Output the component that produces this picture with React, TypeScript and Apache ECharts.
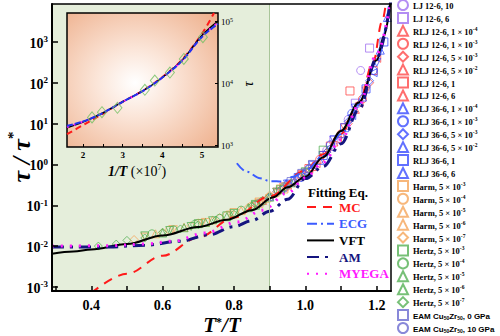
import React, { useEffect, useRef } from 'react';
import * as echarts from 'echarts';

const SERIF = "'Liberation Serif', 'Times New Roman', serif";
const SANS = "'Liberation Sans', Arial, sans-serif";

// axis ticks / labels
const xTickValues = [0.3, 0.4, 0.5, 0.6, 0.7, 0.8, 0.9, 1.0, 1.1, 1.2];
const xLabelValues = [0.4, 0.6, 0.8, 1.0, 1.2];
const insetXTicks = [2, 2.5, 3, 3.5, 4, 4.5, 5];
const insetXLabels = [2, 3, 4, 5];

// fitting curves: [T*/T, tau/tau*]
const mcCurve = [[0.4, 7.1e-4], [0.5, 2.1e-3], [0.6, 5.8e-3], [0.7, 1.62e-2], [0.8, 5.0e-2], [0.9, 0.166], [1.0, 0.71], [1.05, 1.78], [1.1, 5.6], [1.15, 31.6], [1.19, 316], [1.215, 3160], [1.228, 12600]];
const ecgCurve = [[0.808, 1.07], [0.836, 0.66], [0.873, 0.457], [0.901, 0.39], [0.938, 0.38], [0.966, 0.5], [1.0, 0.71], [1.05, 1.6], [1.1, 5.5], [1.15, 30], [1.2, 330], [1.235, 8500]];
const vftCurve = [[0.29, 6.5e-3], [0.35, 7.4e-3], [0.4, 8.3e-3], [0.5, 1.12e-2], [0.6, 1.82e-2], [0.7, 2.95e-2], [0.78, 4.4e-2], [0.85, 7.6e-2], [0.91, 0.158], [0.95, 0.275], [1.0, 0.5], [1.05, 1.51], [1.1, 6.6], [1.15, 33], [1.2, 355], [1.22, 1410], [1.24, 12600]];
const amCurve = [[0.29, 9.5e-3], [0.45, 9.5e-3], [0.55, 1.05e-2], [0.65, 1.32e-2], [0.73, 1.9e-2], [0.8, 3.0e-2], [0.85, 4.2e-2], [0.9, 7.1e-2], [0.95, 0.14], [1.0, 0.45], [1.05, 0.89], [1.1, 3.2], [1.15, 22], [1.2, 400], [1.24, 11000]];
const myegaCurve = [[0.29, 1.0e-2], [0.45, 1.02e-2], [0.55, 1.12e-2], [0.63, 1.32e-2], [0.72, 2.1e-2], [0.81, 3.9e-2], [0.88, 7.6e-2], [0.95, 0.2], [1.0, 0.47], [1.05, 1.12], [1.1, 4.0], [1.15, 28], [1.2, 500], [1.24, 11000]];

// simulation data: [T*/T, tau/tau*]
const lj10 = [[0.99, 0.501], [1.06, 2.24], [1.12, 12.6], [1.155, 200]];
const lj6 = [[1.0, 0.631], [1.08, 3.98], [1.14, 31.6], [1.18, 708]];
const rlj12a = [[0.88, 0.132], [0.95, 0.316], [1.02, 0.891], [1.08, 3.55], [1.14, 22.4]];
const rlj12b = [[0.9, 0.158], [0.97, 0.398], [1.04, 1.32], [1.1, 5.62], [1.16, 39.8]];
const rlj12c = [[0.86, 0.105], [0.93, 0.24], [1.0, 0.603], [1.06, 2.0], [1.12, 10], [1.18, 100]];
const rlj12d = [[0.92, 0.209], [0.99, 0.562], [1.05, 1.66], [1.11, 7.94], [1.17, 63.1]];
const rlj12e = [[0.94, 0.282], [1.01, 0.794], [1.07, 2.82], [1.125, 63.1], [1.19, 200]];
const rlj12f = [[0.96, 0.355], [1.03, 1.05], [1.09, 3.98], [1.15, 31.6], [1.2, 398]];
const rlj36a = [[0.9, 0.166], [0.97, 0.417], [1.04, 1.26], [1.1, 5.62], [1.16, 44.7], [1.21, 631], [1.23, 3980]];
const rlj36b = [[0.87, 0.112], [0.94, 0.263], [1.01, 0.759], [1.07, 3.02], [1.13, 17.8], [1.19, 200]];
const rlj36c = [[0.92, 0.219], [0.99, 0.525], [1.06, 2.0], [1.12, 11.2], [1.18, 112]];
const rlj36d = [[0.95, 0.331], [1.02, 0.955], [1.08, 3.98], [1.14, 24], [1.2, 316]];
const rlj36e = [[0.98, 0.479], [1.05, 1.66], [1.11, 7.94], [1.17, 70.8], [1.22, 1000]];
const rlj36f = [[0.93, 0.251], [1.0, 0.661], [1.07, 2.63], [1.13, 15.8], [1.19, 178]];
const harmA = [[0.72, 0.038], [0.8, 0.0661], [0.87, 0.112], [0.94, 0.251], [1.0, 0.603]];
const harmB = [[0.62, 0.0251], [0.7, 0.0363], [0.78, 0.0562], [0.85, 0.0955], [0.92, 0.2], [0.98, 0.479]];
const harmC = [[0.58, 0.02], [0.66, 0.0288], [0.74, 0.0437], [0.82, 0.0741], [0.89, 0.148], [0.95, 0.316]];
const harmD = [[0.55, 0.0166], [0.63, 0.0251], [0.71, 0.0355], [0.79, 0.0575], [0.87, 0.12], [0.93, 0.251]];
const harmE = [[0.52, 0.0145], [0.6, 0.0214], [0.68, 0.0316], [0.76, 0.0501], [0.84, 0.0891], [0.9, 0.178]];
const hertzA = [[0.7, 0.0355], [0.78, 0.055], [0.86, 0.1], [0.93, 0.24], [1.0, 0.661], [1.05, 2.24]];
const hertzB = [[0.57, 0.02], [0.63, 0.0251], [0.69, 0.0339], [0.76, 0.0479], [0.82, 0.0759], [0.88, 0.126], [0.94, 0.282], [1.0, 0.631]];
const hertzC = [[0.6, 0.0209], [0.66, 0.0282], [0.72, 0.038], [0.78, 0.0525], [0.84, 0.0871], [0.9, 0.158], [0.96, 0.355]];
const hertzD = [[0.55, 0.0178], [0.62, 0.024], [0.68, 0.0302], [0.74, 0.0417], [0.8, 0.0631], [0.86, 0.105], [0.92, 0.209]];
const hertzE = [[0.42, 0.01], [0.47, 0.0112], [0.5, 0.0138], [0.55, 0.0158], [0.6, 0.0219], [0.65, 0.0263], [0.7, 0.0331], [0.75, 0.0437], [0.8, 0.0603], [0.85, 0.0955], [0.9, 0.166]];
const eam0 = [[0.96, 0.38], [0.99, 0.603], [1.02, 1.0]];
const eam10 = [[0.95, 0.316], [0.98, 0.501], [1.01, 0.794]];

// inset: [1/T (x10^7), tau]
const insetVft = [[1.6, 1900], [2.0, 2350], [2.5, 3300], [3.0, 5000], [3.5, 7400], [4.0, 12300], [4.5, 23500], [5.0, 59000], [5.4, 100000]];
const insetBlue = [[1.6, 2050], [2.0, 2400], [2.5, 3300], [3.0, 5000], [3.5, 7400], [4.0, 12300], [4.5, 23000], [5.0, 56000], [5.4, 90000]];
const insetRed = [[1.6, 1500], [2.0, 2100], [2.5, 3200], [3.0, 5000], [3.5, 7500], [4.0, 12500], [4.5, 24000], [5.0, 63000], [5.3, 135000]];
const insetMagenta = [[1.6, 1950], [2.0, 2380], [2.5, 3300], [3.0, 5000], [3.5, 7400], [4.0, 12300], [4.5, 23300], [5.0, 57000], [5.4, 95000]];
const insetPoints = [[2.23, 2800], [2.48, 3400], [2.87, 4000], [3.56, 7800], [3.81, 11000], [4.19, 14800], [4.54, 24500], [5.02, 55000]];

const C_LJ = '#a070f0';
const C_R12 = '#ff4a4a';
const C_R36 = '#3a4cff';
const C_HARM = '#f5a55a';
const C_HERTZ = '#55b055';
const C_EAM = '#6a6ad0';

type Sym = [string, number];
const CIRCLE: Sym = ['circle', 0];
const SQUARE: Sym = ['rect', 0];
const TRI: Sym = ['triangle', 0];
const TRI_DOWN: Sym = ['triangle', 180];
const TRI_LEFT: Sym = ['triangle', 90];
const DIAMOND: Sym = ['diamond', 0];

const scatterDefs: [string, Sym, string, number[][]][] = [
  ['LJ 12-6, 10', CIRCLE, C_LJ, lj10],
  ['LJ 12-6, 6', SQUARE, C_LJ, lj6],
  ['RLJ 12-6, 1 × 10^-4', TRI, C_R12, rlj12a],
  ['RLJ 12-6, 1 × 10^-3', CIRCLE, C_R12, rlj12b],
  ['RLJ 12-6, 5 × 10^-3', DIAMOND, C_R12, rlj12c],
  ['RLJ 12-6, 5 × 10^-2', TRI_DOWN, C_R12, rlj12d],
  ['RLJ 12-6, 1', SQUARE, C_R12, rlj12e],
  ['RLJ 12-6, 6', TRI_LEFT, C_R12, rlj12f],
  ['RLJ 36-6, 1 × 10^-4', TRI, C_R36, rlj36a],
  ['RLJ 36-6, 1 × 10^-3', CIRCLE, C_R36, rlj36b],
  ['RLJ 36-6, 5 × 10^-3', DIAMOND, C_R36, rlj36c],
  ['RLJ 36-6, 5 × 10^-2', TRI_DOWN, C_R36, rlj36d],
  ['RLJ 36-6, 1', SQUARE, C_R36, rlj36e],
  ['RLJ 36-6, 6', TRI_LEFT, C_R36, rlj36f],
  ['Harm, 5 × 10^-3', SQUARE, C_HARM, harmA],
  ['Harm, 5 × 10^-4', CIRCLE, C_HARM, harmB],
  ['Harm, 5 × 10^-5', TRI, C_HARM, harmC],
  ['Harm, 5 × 10^-6', TRI_DOWN, C_HARM, harmD],
  ['Harm, 5 × 10^-7', DIAMOND, C_HARM, harmE],
  ['Hertz, 5 × 10^-3', SQUARE, C_HERTZ, hertzA],
  ['Hertz, 5 × 10^-4', CIRCLE, C_HERTZ, hertzB],
  ['Hertz, 5 × 10^-5', TRI, C_HERTZ, hertzC],
  ['Hertz, 5 × 10^-6', TRI_DOWN, C_HERTZ, hertzD],
  ['Hertz, 5 × 10^-7', DIAMOND, C_HERTZ, hertzE],
  ['EAM Cu50Zr50, 0 GPa', SQUARE, C_EAM, eam0],
  ['EAM Cu50Zr50, 10 GPa', CIRCLE, C_EAM, eam10],
];

const fitDefs: [string, string, any, number, number[][]][] = [
  ['MC', '#ff1a1a', [9, 7], 2, mcCurve],
  ['ECG', '#3b5bff', [10, 4, 2, 4], 2, ecgCurve],
  ['VFT', '#000000', 'solid', 2, vftCurve],
  ['AM', '#15157f', [12, 6, 3, 6], 3, amCurve],
  ['MYEGA', '#ff1aff', [2, 7], 3, myegaCurve],
];

const legendFmt = (name: string) => {
  if (name.startsWith('EAM')) {
    const tail = name.split(', ')[1];
    return `{sans|EAM Cu}{sub|50}{sans|Zr}{sub|50}{sans|, ${tail}}`;
  }
  const m = name.match(/^(.*)\^(-?\d+)$/);
  if (m) return `{t|${m[1]}}{sup|${m[2]}}`;
  return `{t|${name}}`;
};

const logLabel = (v: number) => `{b|10}{s|${Math.round(Math.log10(v))}}`;

export default function App() {
  const ref = useRef<HTMLDivElement>(null);
  useEffect(() => {
    const chart = echarts.init(ref.current!, null, { renderer: 'svg' });

    const series: any[] = [];
    scatterDefs.forEach(([name, sym, color, data]) => {
      series.push({
        name,
        type: 'scatter',
        xAxisIndex: 0,
        yAxisIndex: 0,
        data,
        symbol: sym[0],
        symbolRotate: sym[1],
        symbolSize: 8,
        itemStyle: { color: 'transparent', borderColor: color, borderWidth: 1 },
        z: 2,
      });
    });
    fitDefs.forEach(([name, color, type, width, data]) => {
      const s: any = {
        name,
        type: 'line',
        xAxisIndex: 0,
        yAxisIndex: 0,
        data,
        smooth: 0.35,
        smoothMonotone: 'x',
        symbol: 'none',
        lineStyle: { color, type, width, cap: 'butt' },
        itemStyle: { color },
        z: 3,
      };
      if (name === 'VFT') {
        s.markArea = {
          silent: true,
          itemStyle: { color: '#e5eedb' },
          data: [[{ xAxis: 0.29 }, { xAxis: 0.9 }]],
        };
        s.markLine = {
          silent: true,
          symbol: 'none',
          label: { show: false },
          lineStyle: { color: '#a9c59a', width: 1, type: 'solid' },
          data: [{ xAxis: 0.9 }],
        };
      }
      series.push(s);
    });
    const insetLine = (name: string, data: number[][], color: string, type: any, width: number) => ({
      name,
      type: 'line',
      xAxisIndex: 1,
      yAxisIndex: 1,
      data,
      smooth: 0.35,
      symbol: 'none',
      lineStyle: { color, type, width },
      z: 15,
    });
    series.push(insetLine('inset MC', insetRed, '#ff1a1a', [6, 4], 2));
    series.push(insetLine('inset VFT', insetVft, '#000000', 'solid', 1.5));
    series.push(insetLine('inset MYEGA', insetMagenta, '#ff1aff', [2, 5], 2));
    series.push(insetLine('inset ECG', insetBlue, '#2233ee', [6, 2], 2));
    series.push({
      name: 'inset data',
      type: 'scatter',
      xAxisIndex: 1,
      yAxisIndex: 1,
      data: insetPoints,
      symbol: 'diamond',
      symbolSize: [9, 11],
      itemStyle: { color: 'transparent', borderColor: '#6fbf5f', borderWidth: 1 },
      z: 16,
    });

    const option: any = {
      animation: false,
      backgroundColor: '#ffffff',
      textStyle: { fontFamily: SERIF },
      grid: [
        { left: 52, top: 4, width: 339, height: 287, show: false },
        {
          left: 67, top: 13, width: 151, height: 134, show: true, z: 10,
          borderColor: '#000', borderWidth: 1.5,
          backgroundColor: new echarts.graphic.RadialGradient(0.45, 0.52, 0.85, [
            { offset: 0, color: '#ffffff' },
            { offset: 0.3, color: '#fbe5d8' },
            { offset: 1, color: '#eba37a' },
          ]),
        },
      ],
      xAxis: [
        {
          type: 'value', gridIndex: 0, min: 0.29, max: 1.24, z: 5,
          axisLine: { lineStyle: { color: '#000', width: 2 } },
          axisTick: { inside: true, length: 5, lineStyle: { color: '#000', width: 1.5 }, customValues: xTickValues },
          axisLabel: {
            customValues: xLabelValues, formatter: (v: number) => v.toFixed(1),
            color: '#000', fontFamily: SERIF, fontWeight: 'bold', fontSize: 14, margin: 7,
          },
          splitLine: { show: false },
        },
        {
          type: 'value', gridIndex: 1, min: 1.6, max: 5.4, z: 12,
          axisLine: { show: false },
          axisTick: { inside: true, length: 3, lineStyle: { color: '#000', width: 1 }, customValues: insetXTicks },
          axisLabel: {
            customValues: insetXLabels, color: '#000', fontFamily: SERIF, fontWeight: 'bold', fontSize: 9, margin: 3,
          },
          splitLine: { show: false },
        },
        {
          type: 'value', gridIndex: 0, min: 0.29, max: 1.24, position: 'top', z: 5,
          axisLine: { lineStyle: { color: '#000', width: 1.5 } },
          axisTick: { show: false }, axisLabel: { show: false }, splitLine: { show: false },
        },
      ],
      yAxis: [
        {
          type: 'log', gridIndex: 0, min: Math.pow(10, -3.1), max: Math.pow(10, 3.93), z: 5,
          axisLine: { lineStyle: { color: '#000', width: 2 } },
          axisTick: { inside: true, length: 6, lineStyle: { color: '#000', width: 1.5 } },
          axisLabel: {
            formatter: logLabel, showMinLabel: false, showMaxLabel: false, margin: 4,
            rich: {
              b: { fontFamily: SERIF, fontWeight: 'bold', fontSize: 14, color: '#000', padding: [3, 0, 0, 0], lineHeight: 14 },
              s: { fontFamily: SERIF, fontWeight: 'bold', fontSize: 9, color: '#000', verticalAlign: 'top', lineHeight: 9 },
            },
          },
          splitLine: { show: false },
        },
        {
          type: 'log', gridIndex: 1, position: 'right', min: Math.pow(10, 2.97), max: Math.pow(10, 5.13), z: 12,
          axisLine: { show: false },
          axisTick: { inside: true, length: 3, lineStyle: { color: '#000', width: 1 } },
          axisLabel: {
            formatter: logLabel, showMinLabel: false, showMaxLabel: false, margin: 3,
            rich: {
              b: { fontFamily: SERIF, fontSize: 9, color: '#000', padding: [2, 0, 0, 0], lineHeight: 9 },
              s: { fontFamily: SERIF, fontSize: 6, color: '#000', verticalAlign: 'top', lineHeight: 6 },
            },
          },
          splitLine: { show: false },
        },
        {
          type: 'log', gridIndex: 0, position: 'right', min: Math.pow(10, -3.1), max: Math.pow(10, 3.93), z: 5,
          axisLine: { lineStyle: { color: '#000', width: 1.5 } },
          axisTick: { show: false }, axisLabel: { show: false }, splitLine: { show: false },
        },
      ],
      legend: [
        {
          orient: 'vertical', left: 397, top: -1, padding: 0,
          itemWidth: 10, itemHeight: 10, itemGap: 0.92, selectedMode: false,
          data: scatterDefs.map((d) => d[0]),
          formatter: legendFmt,
          textStyle: {
            fontFamily: SERIF, fontWeight: 'bold', fontSize: 8.5, color: '#000',
            rich: {
              t: { fontFamily: SERIF, fontWeight: 'bold', fontSize: 8.5, lineHeight: 10, padding: [2, 0, 0, 0], color: '#000' },
              sup: { fontFamily: SERIF, fontWeight: 'bold', fontSize: 5.5, lineHeight: 6, verticalAlign: 'top', color: '#000' },
              sans: { fontFamily: SANS, fontWeight: 'bold', fontSize: 8, lineHeight: 10, padding: [2, 0, 0, 0], color: '#000' },
              sub: { fontFamily: SANS, fontWeight: 'bold', fontSize: 5, lineHeight: 6, verticalAlign: 'bottom', color: '#000' },
            },
          },
        },
        {
          orient: 'vertical', left: 306, top: 200, padding: 0,
          itemWidth: 27, itemHeight: 14, itemGap: 2.7, selectedMode: false,
          itemStyle: { opacity: 0 },
          data: fitDefs.map((d) => ({ name: d[0], textStyle: { color: d[0] === 'VFT' ? '#000' : d[1] } })),
          textStyle: { fontFamily: SERIF, fontWeight: 'bold', fontSize: 13, lineHeight: 14 },
        },
      ],
      graphic: [
        {
          type: 'text', x: 18, y: 157, rotation: Math.PI / 2,
          style: {
            text: '{i|τ / τ}{s|*}', textAlign: 'center', textVerticalAlign: 'middle',
            rich: {
              i: { fontFamily: SERIF, fontStyle: 'italic', fontWeight: 'bold', fontSize: 26, fill: '#000', lineHeight: 26, padding: [6, 0, 0, 0] },
              s: { fontFamily: SERIF, fontWeight: 'bold', fontSize: 15, fill: '#000', verticalAlign: 'top', lineHeight: 15 },
            },
          },
        },
        {
          type: 'text', x: 222, y: 325,
          style: {
            text: '{i|T}{s|*}{i|/T}', textAlign: 'center', textVerticalAlign: 'middle',
            rich: {
              i: { fontFamily: SERIF, fontStyle: 'italic', fontWeight: 'bold', fontSize: 21, fill: '#000', lineHeight: 19 },
              s: { fontFamily: SERIF, fontWeight: 'bold', fontSize: 12, fill: '#000', verticalAlign: 'top', lineHeight: 10 },
            },
          },
        },
        {
          type: 'text', x: 308, y: 192,
          style: { text: 'Fitting Eq.', fontFamily: SERIF, fontWeight: 'bold', fontSize: 13, fill: '#000', textVerticalAlign: 'middle' },
        },
        {
          type: 'text', x: 137, y: 170, z: 20,
          style: {
            text: '{i|1/T}{n| (×10}{s|7}{n|)}', textAlign: 'center', textVerticalAlign: 'middle',
            rich: {
              i: { fontFamily: SERIF, fontStyle: 'italic', fontWeight: 'bold', fontSize: 14, fill: '#000', lineHeight: 14, padding: [3, 0, 0, 0] },
              n: { fontFamily: SERIF, fontSize: 14, fill: '#000', lineHeight: 14, padding: [3, 0, 0, 0] },
              s: { fontFamily: SERIF, fontSize: 8, fill: '#000', verticalAlign: 'top', lineHeight: 8 },
            },
          },
        },
        {
          type: 'text', x: 248, y: 84, rotation: Math.PI / 2, z: 20,
          style: { text: 'τ', fontFamily: SERIF, fontStyle: 'italic', fontSize: 14, fill: '#000', textAlign: 'center', textVerticalAlign: 'middle' },
        },
      ],
      series,
    };
    chart.setOption(option);
    return () => chart.dispose();
  }, []);
  return <div ref={ref} style={{ position: 'fixed', left: 0, top: 0, width: 500, height: 336 }} />;
}
